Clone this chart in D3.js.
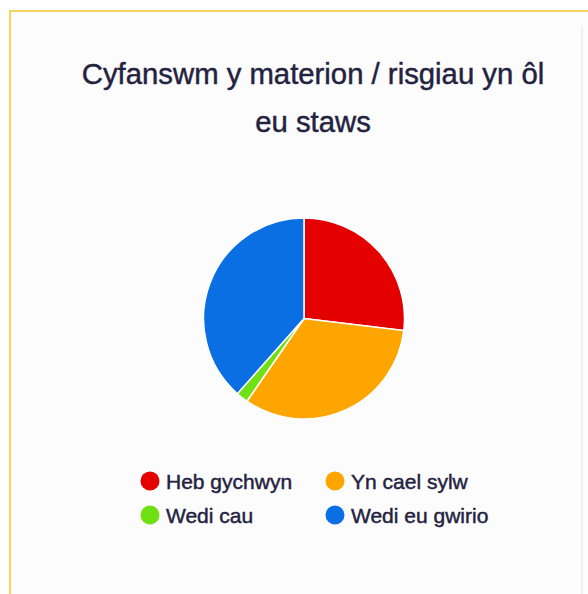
<!DOCTYPE html>
<html>
<head>
<meta charset="utf-8">
<script src="https://cdn.jsdelivr.net/npm/d3@7"></script>
<style>
  html, body { margin: 0; padding: 0; background: #ffffff; }
  svg { display: block; }
</style>
</head>
<body>
<svg id="chart" width="588" height="594"></svg>
<script>
const titleLines = ["Cyfanswm y materion / risgiau yn ôl", "eu staws"];
const categories = ["Heb gychwyn", "Yn cael sylw", "Wedi cau", "Wedi eu gwirio"];
const values = [14, 17, 1, 20];
const colors = ["#e50000", "#ffa500", "#6fe011", "#0a6fe3"];

const svg = d3.select("#chart");

// panel background and frame
svg.append("rect").attr("x", 10).attr("y", 11).attr("width", 578).attr("height", 583).attr("fill", "#fcfcfd");
svg.append("line").attr("x1", 582).attr("x2", 582).attr("y1", 27).attr("y2", 594)
  .attr("stroke", "#ececef").attr("stroke-width", 1.5);
svg.append("line").attr("x1", 9).attr("x2", 588).attr("y1", 11).attr("y2", 11)
  .attr("stroke", "#f7d35c").attr("stroke-width", 2);
svg.append("line").attr("x1", 10).attr("x2", 10).attr("y1", 10).attr("y2", 594)
  .attr("stroke", "#f7d35c").attr("stroke-width", 2);

// title
const title = svg.append("text")
  .attr("text-anchor", "middle")
  .attr("font-family", "Liberation Sans, Arial, sans-serif")
  .attr("font-size", 29.3)
  .attr("fill", "#23223f")
  .attr("stroke", "#23223f")
  .attr("stroke-width", 0.45);
titleLines.forEach((t, i) => {
  title.append("tspan").attr("x", 313).attr("y", 84 + i * 48).text(t);
});

// pie
const cx = 304, cy = 318.5, r = 100.5;
const pie = d3.pie().sort(null).value(d => d)(values);
const arc = d3.arc().innerRadius(0).outerRadius(r);
svg.append("g").attr("transform", `translate(${cx},${cy})`)
  .selectAll("path").data(pie).join("path")
  .attr("d", arc)
  .attr("fill", (d, i) => colors[i])
  .attr("stroke", "#ffffff")
  .attr("stroke-width", 1.5);

// legend
const legendX = d3.scalePoint().domain([0, 1]).range([150, 335]);
const legendY = d3.scalePoint().domain([0, 1]).range([481, 515]);
const lg = svg.append("g");
categories.forEach((c, i) => {
  const col = i % 2, row = Math.floor(i / 2);
  const x = legendX(col), y = legendY(row);
  lg.append("circle").attr("cx", x).attr("cy", y).attr("r", 9.5).attr("fill", colors[i]);
  lg.append("text").attr("x", x + 16).attr("y", y + 7.5)
    .attr("font-family", "Liberation Sans, Arial, sans-serif")
    .attr("font-size", 21)
    .attr("fill", "#23223f")
    .attr("stroke", "#23223f")
    .attr("stroke-width", 0.45)
    .text(c);
});
</script>
</body>
</html>
